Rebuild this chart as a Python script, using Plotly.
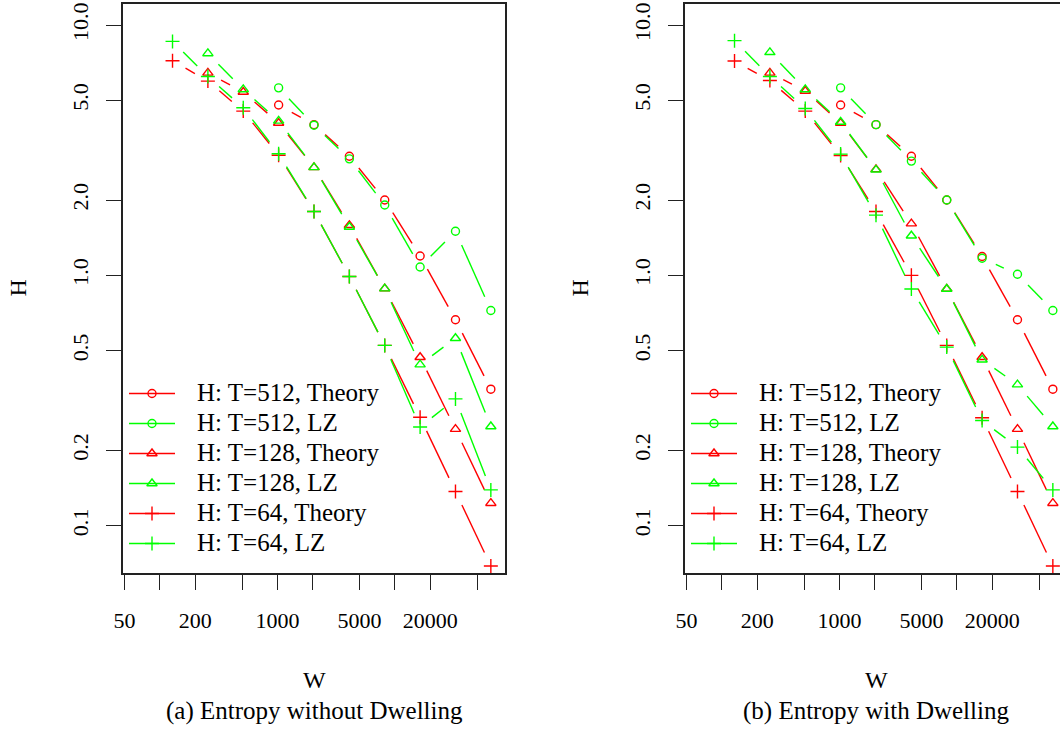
import numpy as np
import plotly.graph_objects as go

# ---------------- data ----------------
W = [128, 256, 512, 1024, 2048, 4096, 8192, 16384, 32768, 65536]

# (a) Entropy without Dwelling
a_T512_theory = [4.79, 4.00, 2.99, 2.00, 1.195, 0.665, 0.351]
a_T512_lz     = [5.61, 3.98, 2.92, 1.91, 1.08, 1.50, 0.724]
a_T128_theory = [6.44, 5.40, 4.06, 2.70, 1.585, 0.885, 0.471, 0.243, 0.123]
a_T128_lz     = [7.70, 5.53, 4.14, 2.70, 1.56, 0.885, 0.44, 0.561, 0.249]
a_T64_theory  = [7.20, 5.97, 4.53, 3.02, 1.80, 0.99, 0.525, 0.271, 0.137, 0.069]
a_T64_lz      = [8.60, 6.23, 4.67, 3.06, 1.80, 0.99, 0.525, 0.248, 0.321, 0.139]

# (b) Entropy with Dwelling
b_T512_theory = [4.79, 4.00, 2.99, 2.00, 1.19, 0.665, 0.351]
b_T512_lz     = [5.61, 4.00, 2.86, 2.00, 1.17, 1.01, 0.724]
b_T128_theory = [6.44, 5.45, 4.06, 2.65, 1.61, 0.882, 0.471, 0.243, 0.123]
b_T128_lz     = [7.78, 5.53, 4.10, 2.64, 1.44, 0.882, 0.46, 0.366, 0.249]
b_T64_theory  = [7.18, 6.00, 4.53, 3.01, 1.80, 1.00, 0.525, 0.270, 0.137, 0.069]
b_T64_lz      = [8.66, 6.23, 4.64, 3.05, 1.74, 0.882, 0.517, 0.263, 0.206, 0.139]

series_names = ["H: T=512, Theory", "H: T=512, LZ", "H: T=128, Theory",
                "H: T=128, LZ", "H: T=64, Theory", "H: T=64, LZ"]

x_tickvals = [50, 100, 200, 500, 1000, 2000, 5000, 10000, 20000, 50000]
x_ticktext = ["50", "", "200", "", "1000", "", "5000", "", "20000", ""]
y_tickvals = [0.1, 0.2, 0.5, 1, 2, 5, 10]
y_ticktext = ["0.1", "0.2", "0.5", "1.0", "2.0", "5.0", "10.0"]

captions = ["(a) Entropy without Dwelling", "(b) Entropy with Dwelling"]

# ---------------- styles / layout ----------------
FIG_W, FIG_H = 1060, 729
RED, GREEN = "#FF0000", "#00FF00"
FONT = "Liberation Serif"
colors = [RED, GREEN, RED, GREEN, RED, GREEN]
symbols = ["circle-open", "circle-open", "triangle-up-open", "triangle-up-open",
           "cross-thin-open", "cross-thin-open"]
msizes = [8, 8, 9, 9, 10, 10]
LW = 1.4

# panel geometry (pixels)
PX_L = [123, 685]
PANEL_W = 382
PX_TOP, PX_BOT = 4, 573

span = np.log10(65536 / 64)
xr0 = np.log10(64) - 0.04 * span
xr1 = np.log10(65536) + 0.04 * span
yr0, yr1 = -1.189, 1.084
px_per_dec_x = PANEL_W / (xr1 - xr0)
px_per_dec_y = (PX_BOT - PX_TOP) / (yr1 - yr0)
GAP = 15

# legend geometry (pixels, relative to the panel's left edge)
LEG_X0, LEG_X1 = 6, 52           # legend line sample
LEG_TXT_GAP = 20                 # gap between sample end and text
LEG_ROW0, LEG_ROW_H = 393.5, 30  # centre of first row, row spacing


def gapped_segments(xs, ys):
    """Segments between consecutive points, trimmed near the points (R type='b')."""
    u = np.log10(np.asarray(xs, float)) * px_per_dec_x
    v = np.log10(np.asarray(ys, float)) * px_per_dec_y
    segs = []
    for i in range(len(u) - 1):
        du, dv = u[i + 1] - u[i], v[i + 1] - v[i]
        d = np.hypot(du, dv)
        if d <= 2 * GAP:
            continue
        f = GAP / d
        ax, ay = u[i] + du * f, v[i] + dv * f
        bx, by = u[i + 1] - du * f, v[i + 1] - dv * f
        segs.append(([float(10 ** (ax / px_per_dec_x)), float(10 ** (bx / px_per_dec_x))],
                     [float(10 ** (ay / px_per_dec_y)), float(10 ** (by / px_per_dec_y))]))
    return segs


fig = go.Figure()

panels = [
    [a_T512_theory, a_T512_lz, a_T128_theory, a_T128_lz, a_T64_theory, a_T64_lz],
    [b_T512_theory, b_T512_lz, b_T128_theory, b_T128_lz, b_T64_theory, b_T64_lz],
]

for p, data in enumerate(panels):
    xa = "x" if p == 0 else "x2"
    ya = "y" if p == 0 else "y2"
    lxa = "x3" if p == 0 else "x4"
    lya = "y3" if p == 0 else "y4"
    for k, ys in enumerate(data):
        xs = W[len(W) - len(ys):]
        for sx, sy in gapped_segments(xs, ys):
            fig.add_trace(go.Scatter(x=sx, y=sy, mode="lines", xaxis=xa, yaxis=ya,
                                     line=dict(color=colors[k], width=LW),
                                     showlegend=False, hoverinfo="skip"))
        fig.add_trace(go.Scatter(x=xs, y=ys, mode="markers", xaxis=xa, yaxis=ya,
                                 name=series_names[k], showlegend=False,
                                 marker=dict(symbol=symbols[k], size=msizes[k],
                                             color=colors[k],
                                             line=dict(color=colors[k], width=LW)),
                                 cliponaxis=False))
        # legend key: a line with the series marker in its middle (row k)
        fig.add_trace(go.Scatter(x=[0, 0.5, 1], y=[k, k, k], mode="lines",
                                 xaxis=lxa, yaxis=lya, showlegend=False, hoverinfo="skip",
                                 line=dict(color=colors[k], width=LW), cliponaxis=False))
        fig.add_trace(go.Scatter(x=[0.5], y=[k], mode="markers", xaxis=lxa, yaxis=lya,
                                 showlegend=False, hoverinfo="skip", cliponaxis=False,
                                 marker=dict(symbol=symbols[k], size=msizes[k],
                                             color=colors[k],
                                             line=dict(color=colors[k], width=LW))))
        fig.add_annotation(text=series_names[k], x=1, y=k, xref=lxa, yref=lya,
                           xanchor="left", yanchor="middle", xshift=LEG_TXT_GAP, yshift=1,
                           showarrow=False, font=dict(family=FONT, size=25, color="black"))

common_x = dict(type="log", tickmode="array", tickvals=x_tickvals, ticktext=x_ticktext,
                ticks="outside", ticklen=15, tickwidth=1.3, tickcolor="#222",
                showline=True, linecolor="#222", linewidth=1.5, showgrid=False,
                zeroline=False, tickfont=dict(family=FONT, size=22, color="black"),
                ticklabelstandoff=12, automargin=False)
common_y = dict(type="log", tickmode="array", tickvals=y_tickvals, ticktext=y_ticktext,
                ticks="outside", ticklen=15, tickwidth=1.3, tickcolor="#222",
                showline=True, linecolor="#222", linewidth=1.5, showgrid=False,
                zeroline=False, tickfont=dict(family=FONT, size=22, color="black"),
                tickangle=-90, range=[yr0, yr1], automargin=False,
                domain=[1 - PX_BOT / FIG_H, 1 - PX_TOP / FIG_H], ticklabelstandoff=9)

hidden = dict(visible=False, showgrid=False, zeroline=False, fixedrange=True)
leg_ydom = [1 - (LEG_ROW0 + LEG_ROW_H * 5.5) / FIG_H, 1 - (LEG_ROW0 - LEG_ROW_H * 0.5) / FIG_H]

x1_dom = [PX_L[0] / FIG_W, (PX_L[0] + PANEL_W) / FIG_W]
x2_dom = [PX_L[1] / FIG_W, 1.0]
x2_r1 = xr0 + (FIG_W - PX_L[1]) / px_per_dec_x

fig.update_layout(
    width=FIG_W, height=FIG_H,
    margin=dict(l=0, r=0, t=0, b=0, pad=0),
    paper_bgcolor="white", plot_bgcolor="rgba(0,0,0,0)",
    font=dict(family=FONT, color="black"),
    showlegend=False,
    xaxis=dict(common_x, domain=x1_dom, range=[xr0, xr1], anchor="y", mirror=True),
    yaxis=dict(common_y, anchor="x", mirror=True),
    xaxis2=dict(common_x, domain=x2_dom, range=[xr0, x2_r1], anchor="y2", mirror=True),
    yaxis2=dict(common_y, anchor="x2", mirror=False),
    xaxis3=dict(hidden, domain=[(PX_L[0] + LEG_X0) / FIG_W, (PX_L[0] + LEG_X1) / FIG_W],
                range=[0, 1], anchor="y3"),
    yaxis3=dict(hidden, domain=leg_ydom, range=[5.5, -0.5], anchor="x3"),
    xaxis4=dict(hidden, domain=[(PX_L[1] + LEG_X0) / FIG_W, (PX_L[1] + LEG_X1) / FIG_W],
                range=[0, 1], anchor="y4"),
    yaxis4=dict(hidden, domain=leg_ydom, range=[5.5, -0.5], anchor="x4"),
)

# axis titles and captions
for p in range(2):
    cx = (PX_L[p] + PANEL_W / 2) / FIG_W
    fig.add_annotation(text="W", x=cx, y=1 - 680 / FIG_H, xref="paper", yref="paper",
                       showarrow=False, font=dict(family=FONT, size=24),
                       xanchor="center", yanchor="middle")
    fig.add_annotation(text=captions[p], x=cx, y=1 - 711 / FIG_H, xref="paper",
                       yref="paper", showarrow=False, font=dict(family=FONT, size=25),
                       xanchor="center", yanchor="middle")
    fig.add_annotation(text="H", x=(PX_L[p] - 105) / FIG_W,
                       y=1 - ((PX_TOP + PX_BOT) / 2) / FIG_H, xref="paper", yref="paper",
                       showarrow=False, textangle=-90, font=dict(family=FONT, size=24),
                       xanchor="center", yanchor="middle")

fig.write_html("out.html", config={"displayModeBar": False},
               post_script="document.body.style.margin='0px';")
